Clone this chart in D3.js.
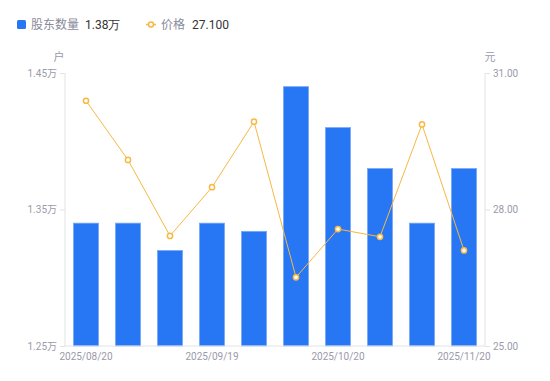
<!DOCTYPE html>
<html><head><meta charset="utf-8">
<script src="https://cdn.jsdelivr.net/npm/d3@7"></script>
<style>body{margin:0;background:#fff;}svg{display:block;font-family:"Noto Sans CJK SC","Noto Sans",sans-serif;}</style>
</head><body><svg id="c" width="550" height="381"></svg>
<script>
const dates = ["2025/08/20","2025/08/29","2025/09/10","2025/09/19","2025/09/30","2025/10/10","2025/10/20","2025/10/31","2025/11/10","2025/11/20"];
const holders = [1.34, 1.34, 1.32, 1.34, 1.334, 1.44, 1.41, 1.38, 1.34, 1.38];
const prices = [30.39, 29.09, 27.42, 28.49, 29.93, 26.51, 27.57, 27.40, 29.87, 27.10];
const leftTicks = [1.25, 1.35, 1.45];
const rightTicks = [25, 28, 31];
const xTickLabels = ["2025/08/20","2025/09/19","2025/10/20","2025/11/20"];

const svg = d3.select("#c");
const L = 65, R = 485, T = 73, B = 346;
const x = d3.scaleBand().domain(dates).range([L, R]).paddingInner(0.4).paddingOuter(0.2);
const xc = d => x(d) + x.bandwidth()/2;
const yL = d3.scaleLinear().domain([1.25, 1.45]).range([B, T]);
const yR = d3.scaleLinear().domain([25, 31]).range([B, T]);
const axisColor = "#e3e3e8", textColor = "#9a9aaa";

// axes lines
svg.append("line").attr("x1",L).attr("x2",L).attr("y1",T).attr("y2",B).attr("stroke",axisColor);
svg.append("line").attr("x1",R).attr("x2",R).attr("y1",T).attr("y2",B).attr("stroke",axisColor);

const la = svg.append("g").attr("transform",`translate(${L},0)`)
  .call(d3.axisLeft(yL).tickValues(leftTicks).tickSize(5).tickPadding(3).tickFormat(d => d.toFixed(2)+"万"));
const ra = svg.append("g").attr("transform",`translate(${R},0)`)
  .call(d3.axisRight(yR).tickValues(rightTicks).tickSize(5).tickPadding(3).tickFormat(d => d.toFixed(2)));
[la, ra].forEach(g => {
  g.select(".domain").remove();
  g.selectAll(".tick line").attr("stroke", axisColor);
  g.selectAll(".tick text").attr("fill", textColor).style("font-size","10px").style("font-family","Roboto, 'Noto Sans CJK SC', sans-serif");
});

// bars
svg.append("g").selectAll("rect").data(dates).join("rect")
  .attr("x", d => x(d)).attr("width", x.bandwidth())
  .attr("y", (d,i) => yL(holders[i])).attr("height", (d,i) => B - yL(holders[i]))
  .attr("fill", "#2777f4").attr("stroke", "#7aa9f7").attr("stroke-width", 0.8);

// bottom axis
const ba = svg.append("g").attr("transform",`translate(0,${B})`)
  .call(d3.axisBottom(x).tickValues(xTickLabels).tickSize(0).tickPadding(7));
ba.select(".domain").attr("stroke", axisColor).attr("d", `M${L},0H${R}`);
ba.selectAll(".tick text").attr("fill", textColor).style("font-size","10px").style("font-family","Roboto, sans-serif");

// line
const line = d3.line().x((d,i) => xc(dates[i])).y(d => yR(d));
svg.append("path").datum(prices).attr("d", line).attr("fill","none").attr("stroke","#f8b842").attr("stroke-width",1);
svg.append("g").selectAll("circle").data(prices).join("circle")
  .attr("cx", (d,i) => xc(dates[i])).attr("cy", d => yR(d)).attr("r", 2.6)
  .attr("fill","#fff").attr("stroke","#f8b842").attr("stroke-width",1.5);

// unit labels
svg.append("text").attr("x",59).attr("y",61).attr("text-anchor","middle").attr("fill",textColor).style("font-size","11px").text("户");
svg.append("text").attr("x",490).attr("y",61).attr("text-anchor","middle").attr("fill",textColor).style("font-size","11px").text("元");

// legend
const lg = svg.append("g");
lg.append("rect").attr("x",17).attr("y",20).attr("width",9).attr("height",9).attr("rx",1.5).attr("fill","#2777f4");
lg.append("text").attr("x",31).attr("y",29).attr("fill","#8a8a9a").style("font-size","12px").text("股东数量");
lg.append("text").attr("x",85).attr("y",29).attr("fill","#333").style("font-size","12px").style("font-family","Roboto, sans-serif").text(holders[holders.length-1].toFixed(2)+"万");
lg.append("line").attr("x1",146).attr("x2",156).attr("y1",24.5).attr("y2",24.5).attr("stroke","#f8b842").attr("stroke-width",1.5);
lg.append("circle").attr("cx",151).attr("cy",24.5).attr("r",2.5).attr("fill","#fff").attr("stroke","#f8b842").attr("stroke-width",1.5);
lg.append("text").attr("x",161).attr("y",29).attr("fill","#8a8a9a").style("font-size","12px").text("价格");
lg.append("text").attr("x",192).attr("y",29).attr("fill","#333").style("font-size","12px").style("font-family","Roboto, sans-serif").text(prices[prices.length-1].toFixed(3));
</script></body></html>
